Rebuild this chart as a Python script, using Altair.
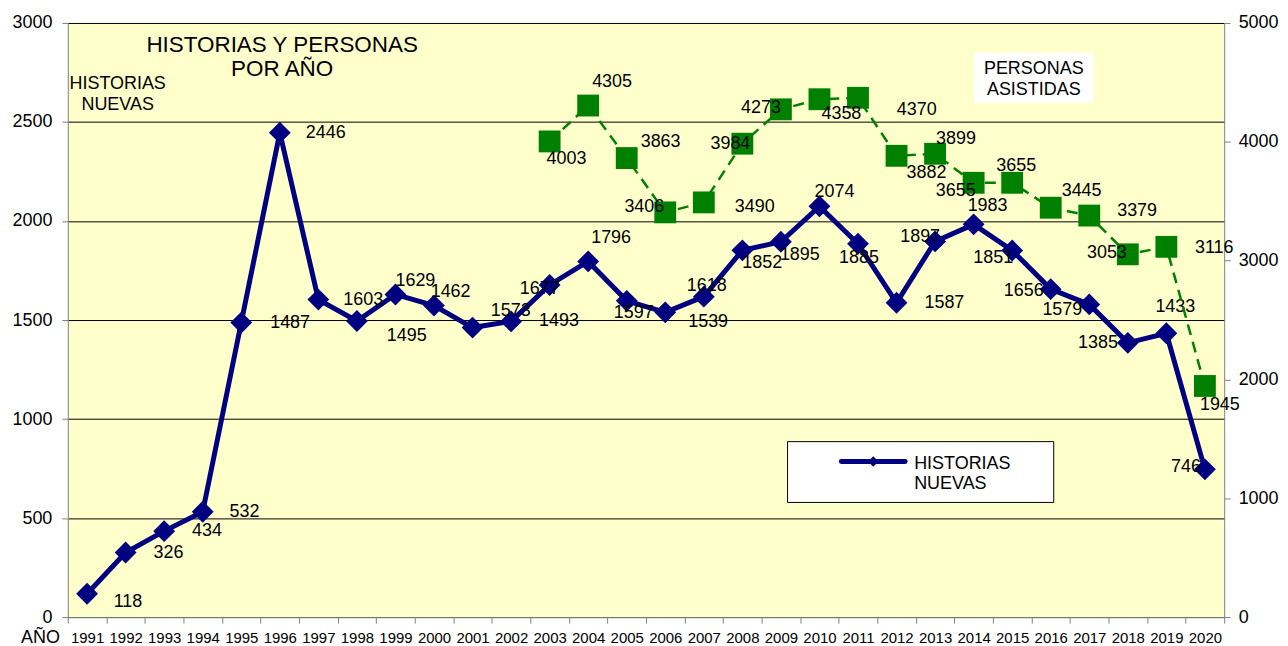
import altair as alt
import pandas as pd

FONT = "Liberation Sans"

# ---- data ----
years = list(range(1991, 2021))
historias = [118, 326, 434, 532, 1487, 2446, 1603, 1495, 1629, 1573,
             1462, 1493, 1677, 1796, 1597, 1539, 1618, 1852, 1895, 2074,
             1885, 1587, 1897, 1983, 1851, 1656, 1579, 1385, 1433, 746]
# label offsets (pixels) relative to each point, as placed in the original
hist_dx = [41, 43, 43, 42, 49, 46, 45, 50, 20, 77, -22, 48, -10, 23, 7,
           43, 3, 20, 19, 15, 1, 48, -15, 14, -19, -27, -27, -30, 9, -19]
hist_dy = [8, 0, 0, 0, 0, 0, 0, 15, -13, 5, -36, 0, 4, -23, 12,
           10, -11, 13, 13, -14, 14, 0, -4, -18, 8, 2, 6, 0, -26, -2]

pers_years = list(range(2003, 2021))
personas = [4003, 4305, 3863, 3406, 3490, 3984, 4273, 4358, 4370,
            3882, 3899, 3655, 3655, 3445, 3379, 3053, 3116, 1945]
pers_dx = [17, 24, 34, -21, 51, -12, -20, 22, 59, 30, 21, -18, 4, 31, 48, -21, 48, 15]
pers_dy = [18, -24, -16, -5, 5, 0, -1, 15, 12, 17, -15, 8, -17, -17, -5, -1, 1, 19]

left_ticks = [0, 500, 1000, 1500, 2000, 2500, 3000]
right_ticks = [0, 1000, 2000, 3000, 4000, 5000]

NAVY = "#000080"
GREEN = "#008000"

hist_df = pd.DataFrame({"year": years, "value": historias, "dx": hist_dx, "dy": hist_dy})
pers_df = pd.DataFrame({"year": pers_years, "value": personas, "dx": pers_dx, "dy": pers_dy})
one = pd.DataFrame({"a": [0]})

x_enc = alt.X(
    "year:O",
    scale=alt.Scale(type="band", paddingInner=0, paddingOuter=0),
    bandPosition=0.5,
    axis=alt.Axis(
        tickBand="extent", labelAngle=0, labelFontSize=15, labelFont=FONT,
        labelColor="black", labelBaseline="middle", labelPadding=14,
        labelOverlap=False, tickSize=6, tickColor="#808080",
        domainColor="#808080", grid=False,
        title="AÑO", titleX=-28, titleY=25, titleFontSize=18, titleFont=FONT,
        titleFontWeight="normal", titleAlign="center",
        titleBaseline="alphabetic", titleColor="black",
    ),
)

left_axis = alt.Axis(
    values=left_ticks, format="d", grid=True, gridColor="#000000", gridWidth=1,
    tickSize=6, tickColor="#808080", domainColor="#808080",
    labelFontSize=18, labelFont=FONT, labelColor="black", labelPadding=10,
    title=None,
)
right_axis = alt.Axis(
    orient="right", values=right_ticks, format="d", grid=False,
    tickSize=6, tickColor="#808080", domainColor="#808080",
    labelFontSize=18, labelFont=FONT, labelColor="black", labelPadding=8,
    title=None,
)

label_style = dict(fontSize=18, font=FONT, color="black",
                   dx=alt.ExprRef("datum.dx"), dy=alt.ExprRef("datum.dy"))

# ---- HISTORIAS NUEVAS (left axis) ----
base_h = alt.Chart(hist_df).encode(
    x=x_enc,
    y=alt.Y("value:Q", scale=alt.Scale(domain=[0, 3000], nice=False), axis=left_axis),
)
line_h = base_h.mark_line(color=NAVY, strokeWidth=5)
pts_h = base_h.mark_point(shape="diamond", filled=True, size=480, color=NAVY, opacity=1)
txt_h = base_h.mark_text(**label_style).encode(text=alt.Text("value:Q", format="d"))
left_layer = alt.layer(line_h, pts_h, txt_h)

# ---- PERSONAS ASISTIDAS (right axis) ----
base_p = alt.Chart(pers_df).encode(
    x=x_enc,
    y=alt.Y("value:Q", scale=alt.Scale(domain=[0, 5000], nice=False), axis=right_axis),
)
line_p = base_p.mark_line(color=GREEN, strokeWidth=2.5, strokeDash=[11, 7])
pts_p = base_p.mark_point(shape="square", filled=True, size=480, color=GREEN, opacity=1)
txt_p = base_p.mark_text(**label_style).encode(text=alt.Text("value:Q", format="d"))
right_layer = alt.layer(line_p, pts_p, txt_p)

# ---- annotations ----
title_txt = alt.Chart(one).mark_text(
    fontSize=22.5, font=FONT, color="black", align="center", baseline="alphabetic", lineHeight=24
).encode(x=alt.value(215), y=alt.value(29), text=alt.value(["HISTORIAS Y PERSONAS", "POR AÑO"]))

hist_lbl = alt.Chart(one).mark_text(
    fontSize=18, font=FONT, color="black", align="center", baseline="alphabetic", lineHeight=21
).encode(x=alt.value(50), y=alt.value(66), text=alt.value(["HISTORIAS", "NUEVAS"]))

pers_box = alt.Chart(one).mark_rect(fill="white").encode(
    x=alt.value(909), x2=alt.value(1029), y=alt.value(30), y2=alt.value(80)
)
pers_lbl = alt.Chart(one).mark_text(
    fontSize=18, font=FONT, color="black", align="center", baseline="alphabetic", lineHeight=21
).encode(x=alt.value(969), y=alt.value(51), text=alt.value(["PERSONAS", "ASISTIDAS"]))

leg_box = alt.Chart(one).mark_rect(fill="white", stroke="black", strokeWidth=1).encode(
    x=alt.value(722), x2=alt.value(989), y=alt.value(420), y2=alt.value(481)
)
leg_line = alt.Chart(one).mark_rule(color=NAVY, strokeWidth=5, strokeCap="round").encode(
    x=alt.value(776), x2=alt.value(840), y=alt.value(440)
)
leg_pt = alt.Chart(one).mark_point(shape="diamond", filled=True, size=110, color=NAVY, opacity=1).encode(
    x=alt.value(808), y=alt.value(440)
)
leg_txt = alt.Chart(one).mark_text(
    fontSize=18, font=FONT, color="black", align="left", baseline="alphabetic", lineHeight=21
).encode(x=alt.value(849), y=alt.value(447), text=alt.value(["HISTORIAS", "NUEVAS"]))

chart = alt.layer(
    left_layer, right_layer,
    title_txt, hist_lbl, pers_box, pers_lbl,
    leg_box, leg_line, leg_pt, leg_txt,
).resolve_scale(y="independent").properties(
    width=1160, height=596,
    autosize=alt.AutoSizeParams(type="none"),
    padding={"left": 60, "top": 14, "right": 56, "bottom": 28},
    background="white",
).configure_view(fill="#FFFFCC", stroke=None)

chart.save("out.html", embed_options={"renderer": "svg", "actions": False})
